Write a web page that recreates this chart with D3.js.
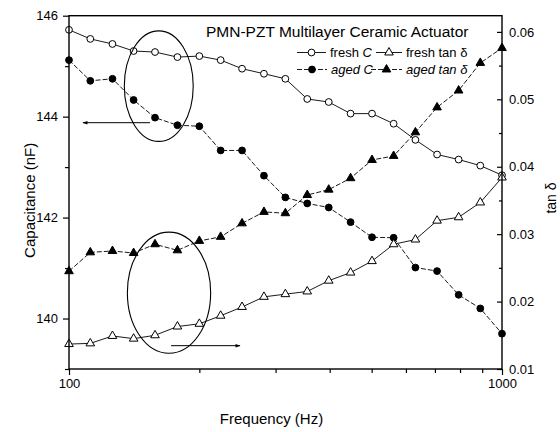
<!DOCTYPE html>
<html><head><meta charset="utf-8">
<script src="https://cdn.jsdelivr.net/npm/d3@7"></script>
<style>body{margin:0;background:#fff;} svg{display:block;font-family:"Liberation Sans",Arial,Helvetica,sans-serif;}</style>
</head><body><svg id="c" width="560" height="432"></svg>
<script>
// ---- data ----
const freqs = [100,112,126,141,158,178,200,224,251,282,316,355,398,447,501,562,631,708,794,891,1000];
const freshC   = [145.72,145.54,145.44,145.30,145.28,145.18,145.20,145.12,144.95,144.85,144.75,144.35,144.29,144.06,144.06,143.86,143.54,143.25,143.15,143.03,142.84];
const agedC    = [145.12,144.71,144.75,144.33,143.98,143.83,143.81,143.33,143.33,142.83,142.40,142.28,142.20,141.91,141.61,141.60,141.01,140.94,140.47,140.20,139.70];
const freshTan = [0.0137,0.0138,0.0149,0.0145,0.0150,0.0163,0.0167,0.0179,0.0192,0.0207,0.0211,0.0215,0.0231,0.0243,0.0260,0.0285,0.0292,0.0320,0.0325,0.0347,0.0384];
const agedTan  = [0.0245,0.0273,0.0275,0.0272,0.0285,0.0276,0.0290,0.0296,0.0316,0.0333,0.0331,0.0358,0.0366,0.0383,0.0410,0.0416,0.0451,0.0488,0.0513,0.0554,0.0576];
const xTickLabels = [100,1000];
const xMinorTicks = [200,300,400,500,600,700,800,900];
const leftTickLabels = [140,142,144,146];
const leftMinorTicks = [139,141,143,145];
const rightTickLabels = [0.01,0.02,0.03,0.04,0.05,0.06];
const rightMinorTicks = [0.015,0.025,0.035,0.045,0.055];
const chartTitle = "PMN-PZT Multilayer Ceramic Actuator";
const xTitle = "Frequency (Hz)";
const yLeftTitle = "Capacitance (nF)";
const yRightTitle = "tan δ";
// annotation ellipses / arrows in data units
const ellipses = [
  {f0:134.2, f1:193.6, v0:145.70, v1:143.51, axis:"left"},
  {f0:136.4, f1:212.4, v0:0.0303, v1:0.01233, axis:"right"}
];
const arrows = [
  {f0:153.8, f1:107.7, v:143.88, axis:"left"},
  {f0:172.1, f1:248.3, v:0.01346, axis:"right"}
];

// ---- layout ----
const L = 69, R = 502, T = 15.7, B = 369;
const svg = d3.select("#c");
const x = d3.scaleLog().domain([100,1000]).range([L,R]);
const yL = d3.scaleLinear().domain([139,146]).range([B,T]);
const yR = d3.scaleLinear().domain([0.01,0.0624]).range([B,T]);

const series = [
  {name:"freshC", vals:freshC, y:yL, shape:"circle", fill:"#fff", dash:null},
  {name:"agedC", vals:agedC, y:yL, shape:"circle", fill:"#000", dash:"5,2"},
  {name:"freshTan", vals:freshTan, y:yR, shape:"tri", fill:"#fff", dash:null},
  {name:"agedTan", vals:agedTan, y:yR, shape:"tri", fill:"#000", dash:"5,2"}
];

function drawMarker(g, shape, fill){
  if(shape==="circle"){
    g.append("circle").attr("r",3.4).attr("fill",fill).attr("stroke","#000").attr("stroke-width",1);
  } else {
    g.append("path").attr("d", d3.symbol(d3.symbolTriangle, 32)()).attr("fill",fill).attr("stroke","#000").attr("stroke-width",1);
  }
}

// lines
series.forEach(s=>{
  const line = d3.line().x((d,i)=>x(freqs[i])).y(d=>s.y(d));
  svg.append("path").datum(s.vals).attr("d",line).attr("fill","none")
    .attr("stroke","#000").attr("stroke-width",0.9).attr("stroke-dasharray",s.dash);
});
series.forEach(s=>{
  s.vals.forEach((v,i)=>{
    const g = svg.append("g").attr("transform",`translate(${x(freqs[i])},${s.y(v)})`);
    drawMarker(g, s.shape, s.fill);
  });
});

// frame
svg.append("rect").attr("x",L).attr("y",T).attr("width",R-L).attr("height",B-T)
  .attr("fill","none").attr("stroke","#000").attr("stroke-width",1.4);

// axes
function styleAxis(g){ g.select(".domain").remove(); g.selectAll("line").attr("stroke","#000").attr("stroke-width",1.2);
  g.selectAll("text").attr("font-family",'"Liberation Sans",Arial,sans-serif').attr("font-size",13).attr("fill","#000"); }

svg.append("g").attr("transform",`translate(0,${B})`)
  .call(d3.axisBottom(x).tickValues(xTickLabels).tickFormat(d3.format("d")).tickSize(6).tickPadding(4)).call(styleAxis);
svg.append("g").attr("transform",`translate(0,${B})`)
  .call(d3.axisBottom(x).tickValues(xMinorTicks).tickFormat("").tickSize(4)).call(styleAxis);

svg.append("g").attr("transform",`translate(${L},0)`)
  .call(d3.axisLeft(yL).tickValues(leftTickLabels).tickFormat(d3.format("d")).tickSize(6).tickPadding(5)).call(styleAxis);
svg.append("g").attr("transform",`translate(${L},0)`)
  .call(d3.axisLeft(yL).tickValues(leftMinorTicks).tickFormat("").tickSize(4)).call(styleAxis);

svg.append("g").attr("transform",`translate(${R},0)`)
  .call(d3.axisRight(yR).tickValues(rightTickLabels).tickFormat(d3.format(".2f")).tickSizeInner(-5).tickSizeOuter(0).tickPadding(7)).call(styleAxis);
svg.append("g").attr("transform",`translate(${R},0)`)
  .call(d3.axisRight(yR).tickValues(rightMinorTicks).tickFormat("").tickSizeInner(-3).tickSizeOuter(0)).call(styleAxis);

// titles
svg.append("text").attr("x",(L+R)/2-14).attr("y",424).attr("text-anchor","middle").attr("font-size",15).text(xTitle);
svg.append("text").attr("transform",`translate(35,${(T+B)/2+8}) rotate(-90)`).attr("text-anchor","middle").attr("font-size",15).text(yLeftTitle);
svg.append("text").attr("transform",`translate(556,198) rotate(-90)`).attr("text-anchor","middle").attr("font-size",14).text(yRightTitle);
svg.append("text").attr("x",206).attr("y",36.5).attr("font-size",15.5).text(chartTitle);

// legend
const legend = [
  {s:0, lx:297, tx:330, y:57, parts:[["fresh ",false],["C",true]]},
  {s:2, lx:376, tx:406, y:57, parts:[["fresh tan δ",false]]},
  {s:1, lx:297, tx:331, y:74, parts:[["aged C",true]]},
  {s:3, lx:371, tx:406, y:74, parts:[["aged tan δ",true]]}
];
legend.forEach(e=>{
  const s = series[e.s];
  const cy = e.y-4.5;
  svg.append("line").attr("x1",e.lx).attr("x2",e.tx-4).attr("y1",cy).attr("y2",cy)
    .attr("stroke","#000").attr("stroke-width",0.9).attr("stroke-dasharray",s.dash);
  const g = svg.append("g").attr("transform",`translate(${(e.lx+e.tx-4)/2},${cy})`);
  drawMarker(g, s.shape, s.fill);
  const t = svg.append("text").attr("x",e.tx).attr("y",e.y).attr("font-size",13);
  e.parts.forEach(p=>t.append("tspan").attr("font-style",p[1]?"italic":"normal").text(p[0]));
});

// annotations
svg.append("defs").append("marker").attr("id","ah").attr("viewBox","0 0 10 10").attr("refX",9).attr("refY",5)
  .attr("markerWidth",7).attr("markerHeight",5).attr("orient","auto")
  .append("path").attr("d","M0,1.5 L10,5 L0,8.5 Z").attr("fill","#000");
ellipses.forEach(e=>{
  const y = e.axis==="left"?yL:yR;
  const cx=(x(e.f0)+x(e.f1))/2, cy=(y(e.v0)+y(e.v1))/2;
  svg.append("ellipse").attr("cx",cx).attr("cy",cy).attr("rx",Math.abs(x(e.f1)-x(e.f0))/2).attr("ry",Math.abs(y(e.v1)-y(e.v0))/2)
    .attr("fill","none").attr("stroke","#000").attr("stroke-width",1.1);
});
arrows.forEach(a=>{
  const y = a.axis==="left"?yL:yR;
  svg.append("line").attr("x1",x(a.f0)).attr("x2",x(a.f1)).attr("y1",y(a.v)).attr("y2",y(a.v))
    .attr("stroke","#000").attr("stroke-width",1).attr("marker-end","url(#ah)");
});
</script></body></html>
